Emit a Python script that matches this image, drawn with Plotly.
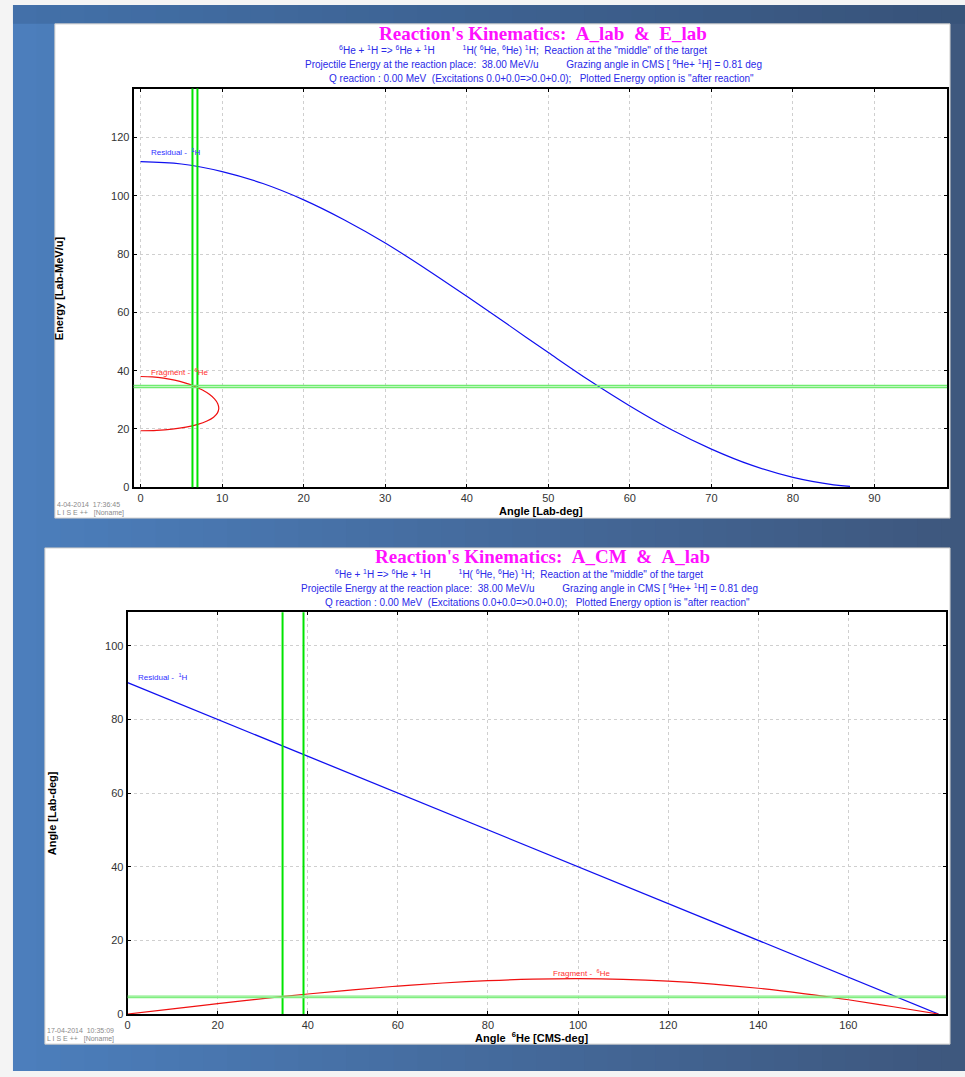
import plotly.graph_objects as go

W, H = 965, 1077

# ---- kinematics tables: 6He + 1H elastic, 38 MeV/u ----
# Residual 1H: lab angle (deg) and energy (MeV/u)
resid_lab_angle = [0, 5, 10, 15, 20, 25, 30, 35, 40, 45, 50, 55, 60, 65, 70, 75, 80, 85, 87]
resid_energy = [111.7, 110.9, 108.3, 104.2, 98.6, 91.7, 83.8, 74.9, 65.5, 55.9, 46.2,
                36.7, 27.9, 19.9, 13.1, 7.5, 3.4, 0.85, 0.31]

# 6He fragment vs its CM angle
cm_angle = [0, 10, 20, 30, 40, 50, 60, 70, 80, 90, 100, 110, 120, 130, 140, 150, 160, 170, 180]
frag_lab_angle = [0, 1.42, 2.82, 4.17, 5.43, 6.58, 7.59, 8.43, 9.06, 9.46, 9.59, 9.43,
                  8.95, 8.14, 7.00, 5.56, 3.87, 1.98, 0]
frag_energy = [38.0, 37.86, 37.44, 36.75, 35.82, 34.68, 33.35, 31.88, 30.31, 28.69, 27.08,
               25.51, 24.04, 22.71, 21.56, 20.63, 19.95, 19.53, 19.39]
# 1H recoil lab angle vs 6He CM angle
resid_lab_vs_cm = [90, 85, 80, 75, 70, 65, 60, 55, 50, 45, 40, 35, 30, 25, 20, 15, 10, 5, 0]

# detector gates
gate_lab_angle = [6.36, 6.97]
gate_energy = [34.2, 34.92]
gate_cm_angle = [34.4, 39.05]
gate_lab_angle2 = [4.43, 4.86]

x1_ticks = [0, 10, 20, 30, 40, 50, 60, 70, 80, 90]
y1_ticks = [0, 20, 40, 60, 80, 100, 120]
x2_ticks = [0, 20, 40, 60, 80, 100, 120, 140, 160]
y2_ticks = [0, 20, 40, 60, 80, 100]


def fx(px):
    return px / W


def fy(py):
    return 1 - py / H


BLUE = "#1010f0"
RED = "#f01010"

fig = go.Figure()

fig.add_trace(go.Scatter(x=resid_lab_angle, y=resid_energy, mode="lines", line=dict(color=BLUE, width=1.2, shape="spline"),
                         xaxis="x", yaxis="y", hoverinfo="skip"))
fig.add_trace(go.Scatter(x=frag_lab_angle, y=frag_energy, mode="lines", line=dict(color=RED, width=1.2, shape="spline"),
                         xaxis="x", yaxis="y", hoverinfo="skip"))
fig.add_trace(go.Scatter(x=cm_angle, y=resid_lab_vs_cm, mode="lines", line=dict(color=BLUE, width=1.3),
                         xaxis="x2", yaxis="y2", hoverinfo="skip"))
fig.add_trace(go.Scatter(x=cm_angle, y=frag_lab_angle, mode="lines", line=dict(color=RED, width=1.2, shape="spline"),
                         xaxis="x2", yaxis="y2", hoverinfo="skip"))

shapes = []
# blue backdrop with a left-to-right fade
n = 40
x0p, x1p = 10, 965
c0 = (76, 126, 188)
c1 = (62, 88, 126)
for i in range(n):
    t = i / (n - 1)
    col = tuple(int(c0[k] + (c1[k] - c0[k]) * t) for k in range(3))
    xa = x0p + (x1p - x0p) * i / n
    xb = x0p + (x1p - x0p) * (i + 1) / n + 1
    shapes.append(dict(type="rect", xref="paper", yref="paper", x0=fx(xa), x1=fx(xb), y0=fy(1077), y1=fy(5),
                       fillcolor="rgb(%d,%d,%d)" % col, line=dict(width=0), layer="below"))
# darker band along the top
shapes.append(dict(type="rect", xref="paper", yref="paper", x0=fx(10), x1=fx(965), y0=fy(24), y1=fy(5),
                   fillcolor="rgba(40,70,110,0.25)", line=dict(width=0), layer="below"))
# white panels
shapes.append(dict(type="rect", xref="paper", yref="paper", x0=fx(52), x1=fx(950), y0=fy(521), y1=fy(24),
                   fillcolor="white", line=dict(color="#c8c8c8", width=1), layer="below"))
shapes.append(dict(type="rect", xref="paper", yref="paper", x0=fx(42), x1=fx(950), y0=fy(1050), y1=fy(551),
                   fillcolor="white", line=dict(color="#c8c8c8", width=1), layer="below"))

# gates, panel 1
for g in gate_lab_angle:
    shapes.append(dict(type="line", xref="x", yref="y domain", x0=g, x1=g, y0=0, y1=1,
                       line=dict(color="#00e400", width=2)))
for g in gate_energy:
    shapes.append(dict(type="line", xref="x domain", yref="y", x0=0, x1=1, y0=g, y1=g,
                       line=dict(color="#70ec70", width=1.6)))
# gates, panel 2
for g in gate_cm_angle:
    shapes.append(dict(type="line", xref="x2", yref="y2 domain", x0=g, x1=g, y0=0, y1=1,
                       line=dict(color="#00e400", width=2)))
for g in gate_lab_angle2:
    shapes.append(dict(type="line", xref="x2 domain", yref="y2", x0=0, x1=1, y0=g, y1=g,
                       line=dict(color="#80ee80", width=1.2)))

axis_common = dict(showline=True, linecolor="black", linewidth=2, mirror="ticks", ticks="inside", ticklen=3,
                   tickcolor="black", showgrid=True, gridcolor="#cfcfcf", griddash="dot", gridwidth=1,
                   zeroline=False, tickfont=dict(family="Liberation Sans, Arial", size=11, color="#333333"))

NB = "\u00a0"
SUB_FONT = dict(family="Liberation Sans, Arial", size=10, color="#2a2ae8")
TITLE_FONT = dict(family="Liberation Serif, Times New Roman", size=19, color="#ff10ff")

sub1 = ("<sup>6</sup>He + <sup>1</sup>H => <sup>6</sup>He + <sup>1</sup>H" + NB * 10 +
        "<sup>1</sup>H( <sup>6</sup>He, <sup>6</sup>He) <sup>1</sup>H;" + NB * 2 +
        "Reaction at the \"middle\" of the target")
sub2 = ("Projectile Energy at the reaction place:" + NB * 2 + "38.00 MeV/u" + NB * 10 +
        "Grazing angle in CMS [ <sup>6</sup>He+ <sup>1</sup>H] = 0.81 deg")
sub3 = ("Q reaction : 0.00 MeV" + NB * 2 + "(Excitations 0.0+0.0=>0.0+0.0);" + NB * 3 +
        "Plotted Energy option is \"after reaction\"")

annotations = []


def add_text(text, x, y, font, xanchor="center", yanchor="middle", textangle=0):
    annotations.append(dict(text=text, x=fx(x), y=fy(y), xref="paper", yref="paper", showarrow=False,
                            font=font, xanchor=xanchor, yanchor=yanchor, textangle=textangle))


# panel 1 header
add_text("<b>Reaction's Kinematics:" + NB * 2 + "A_lab" + NB * 2 + "&" + NB * 2 + "E_lab</b>", 542, 34, TITLE_FONT)
add_text(sub1, 522, 50, SUB_FONT)
add_text(sub2, 532, 64, SUB_FONT)
add_text(sub3, 540, 79, SUB_FONT)
# panel 2 header
add_text("<b>Reaction's Kinematics:" + NB * 2 + "A_CM" + NB * 2 + "&" + NB * 2 + "A_lab</b>", 541, 560, TITLE_FONT)
add_text(sub1, 518, 577, SUB_FONT)
add_text(sub2, 528, 591, SUB_FONT)
add_text(sub3, 536, 606, SUB_FONT)

AX_TITLE = dict(family="Liberation Sans, Arial", size=11, color="black")
add_text("<b>Energy [Lab-MeV/u]</b>", 57, 290, AX_TITLE, textangle=-90)
add_text("<b>Angle [Lab-deg]</b>", 540, 506, AX_TITLE, yanchor="top")
add_text("<b>Angle [Lab-deg]</b>", 50, 818, AX_TITLE, textangle=-90)
add_text("<b>Angle" + NB * 2 + "<sup>6</sup>He [CMS-deg]</b>", 530, 1034, AX_TITLE, yanchor="top")

STAMP = dict(family="Liberation Sans, Arial", size=7, color="#8a8a8a")
add_text("4-04-2014" + NB * 2 + "17:36:45", 52, 507, STAMP, xanchor="left")
add_text("L I S E ++" + NB * 3 + "[Noname]", 52, 516, STAMP, xanchor="left")
add_text("17-04-2014" + NB * 2 + "10:35:09", 42, 1036, STAMP, xanchor="left")
add_text("L I S E ++" + NB * 3 + "[Noname]", 42, 1045, STAMP, xanchor="left")

LBL_B = dict(family="Liberation Sans, Arial", size=8, color="#3030ff")
LBL_R = dict(family="Liberation Sans, Arial", size=8, color="#ff3030")
add_text("Residual -" + NB * 2 + "<sup>1</sup>H", 146, 153, LBL_B, xanchor="left")
add_text("Fragment -" + NB * 2 + "<sup>6</sup>He", 146, 374, LBL_R, xanchor="left")
add_text("Residual -" + NB * 2 + "<sup>1</sup>H", 133, 681, LBL_B, xanchor="left")
add_text("Fragment -" + NB * 2 + "<sup>6</sup>He", 550, 978, LBL_R, xanchor="left")

fig.update_layout(
    width=W, height=H, margin=dict(l=0, r=0, t=0, b=0),
    paper_bgcolor="#f4f4f4", plot_bgcolor="white", showlegend=False,
    shapes=shapes, annotations=annotations,
    xaxis=dict(axis_common, domain=[fx(131), fx(947)], range=[-0.86, 98.9], tickvals=x1_ticks, anchor="y"),
    yaxis=dict(axis_common, domain=[fy(490), fy(89)], range=[0, 136.8], tickvals=y1_ticks, anchor="x"),
    xaxis2=dict(axis_common, domain=[fx(125), fx(946)], range=[0, 181.7], tickvals=x2_ticks, anchor="y2"),
    yaxis2=dict(axis_common, domain=[fy(1019.7), fy(615.7)], range=[0, 109.1], tickvals=y2_ticks, anchor="x2"),
)

fig.write_html("out.html")
